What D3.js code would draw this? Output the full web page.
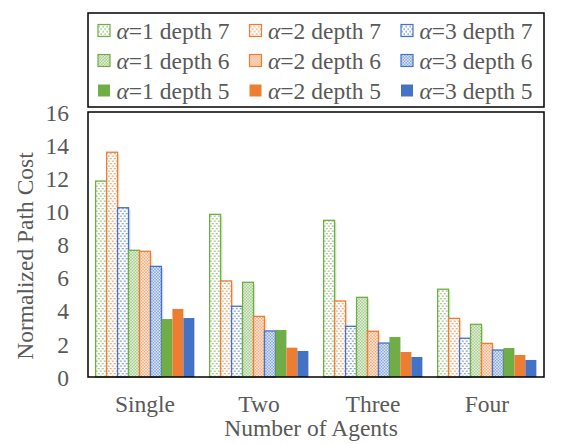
<!DOCTYPE html>
<html>
<head>
<meta charset="utf-8">
<script src="https://cdn.jsdelivr.net/npm/d3@7"></script>
<style>
	body { margin: 0; background: #fff; }
	text { font-family: "Liberation Serif", "Times New Roman", serif; fill: #595959; }
</style>
</head>
<body>
<svg id="chart" width="578" height="444"></svg>
<script>
// chart data
var categories = ["Single", "Two", "Three", "Four"];
var seriesAlpha = [1, 2, 3, 1, 2, 3, 1, 2, 3];
var seriesDepth = [7, 7, 7, 6, 6, 6, 5, 5, 5];
var a1d7 = [11.83, 9.82, 9.46, 5.30];
var a2d7 = [13.57, 5.80, 4.59, 3.54];
var a3d7 = [10.22, 4.27, 3.06, 2.34];
var a1d6 = [7.65, 5.72, 4.81, 3.18];
var a2d6 = [7.59, 3.66, 2.76, 2.03];
var a3d6 = [6.68, 2.78, 2.05, 1.63];
var a1d5 = [3.50, 2.84, 2.42, 1.75];
var a2d5 = [4.11, 1.77, 1.51, 1.33];
var a3d5 = [3.56, 1.57, 1.21, 1.03];
var yTicks = [0, 2, 4, 6, 8, 10, 12, 14, 16];

var seriesValues = [a1d7, a2d7, a3d7, a1d6, a2d6, a3d6, a1d5, a2d5, a3d5];
var alphaColor = {1: "#70ad47", 2: "#ed7d31", 3: "#4472c4"};

var svg = d3.select("#chart");
var plot = {left: 88, right: 544, top: 112, bottom: 377};

//patterns: depth 7 = sparse dots, depth 6 = fine checker
var defs = svg.append("defs");
[1, 2, 3].forEach(function(a){
	var c = alphaColor[a];
	var p7 = defs.append("pattern")
		.attr("id", "dots" + a)
		.attr("patternUnits", "userSpaceOnUse")
		.attr("width", 4).attr("height", 5);
	p7.append("rect").attr("width", 4).attr("height", 5).attr("fill", "#fff");
	p7.append("rect").attr("x", 0.5).attr("y", 0.5).attr("width", 1.3).attr("height", 1.3).attr("fill", c);
	p7.append("rect").attr("x", 2.5).attr("y", 3).attr("width", 1.3).attr("height", 1.3).attr("fill", c);

	var p6 = defs.append("pattern")
		.attr("id", "check" + a)
		.attr("patternUnits", "userSpaceOnUse")
		.attr("width", 3).attr("height", 3);
	p6.append("rect").attr("width", 3).attr("height", 3).attr("fill", "#fff");
	p6.append("rect").attr("width", 1.5).attr("height", 1.5).attr("fill", c).attr("opacity", 0.8);
	p6.append("rect").attr("x", 1.5).attr("y", 1.5).attr("width", 1.5).attr("height", 1.5).attr("fill", c).attr("opacity", 0.8);
});

function seriesFill(i){
	var a = seriesAlpha[i], d = seriesDepth[i];
	if (d === 7) return "url(#dots" + a + ")";
	if (d === 6) return "url(#check" + a + ")";
	return alphaColor[a];
}

var x0 = d3.scaleBand()
	.domain(categories)
	.range([plot.left, plot.right])
	.paddingInner(0.134)
	.paddingOuter(0.067);
var x1 = d3.scaleBand()
	.domain(d3.range(seriesValues.length))
	.range([0, x0.bandwidth()]);
var y = d3.scaleLinear()
	.domain([0, 16])
	.range([plot.bottom, plot.top]);

// bars
var groups = svg.append("g").selectAll("g")
	.data(categories)
	.join("g")
	.attr("transform", function(c){ return "translate(" + x0(c) + ",0)"; });

groups.each(function(c, ci){
	var g = d3.select(this);
	var bars = seriesValues.map(function(v, si){ return {si: si, v: v[ci]}; });
	//faint shadow behind the patterned bars
	g.selectAll("rect.shadow")
		.data(bars.filter(function(b){ return seriesDepth[b.si] !== 5; }))
		.join("rect")
		.attr("class", "shadow")
		.attr("x", function(b){ return x1(b.si) + 2; })
		.attr("y", function(b){ return y(b.v) + 2; })
		.attr("width", x1.bandwidth())
		.attr("height", function(b){ return plot.bottom - y(b.v) - 2; })
		.attr("fill", function(b){ return alphaColor[seriesAlpha[b.si]]; })
		.attr("opacity", 0.18);
	g.selectAll("rect.bar")
		.data(bars)
		.join("rect")
		.attr("class", "bar")
		.attr("x", function(b){ return x1(b.si); })
		.attr("y", function(b){ return y(b.v); })
		.attr("width", x1.bandwidth())
		.attr("height", function(b){ return plot.bottom - y(b.v); })
		.attr("fill", function(b){ return seriesFill(b.si); })
		.attr("stroke", function(b){ return seriesDepth[b.si] === 5 ? "none" : alphaColor[seriesAlpha[b.si]]; })
		.attr("stroke-width", 1.3);
});

// plot frame
svg.append("rect")
	.attr("x", plot.left).attr("y", plot.top)
	.attr("width", plot.right - plot.left).attr("height", plot.bottom - plot.top)
	.attr("fill", "none").attr("stroke", "#000").attr("stroke-width", 1.5);

// y axis labels
var yAxis = svg.append("g")
	.attr("transform", "translate(" + (plot.left - 19) + ",0)")
	.call(d3.axisLeft(y).tickValues(yTicks).tickSize(0).tickPadding(0));
yAxis.select(".domain").remove();
yAxis.selectAll("text")
	.attr("dy", "0.35em")
	.style("font-size", "23.5px")
	.style("font-family", "Liberation Serif");

// x axis labels
var xAxis = svg.append("g")
	.attr("transform", "translate(0," + plot.bottom + ")")
	.call(d3.axisBottom(x0).tickSize(0).tickPadding(0));
xAxis.select(".domain").remove();
xAxis.selectAll("text")
	.attr("y", 27)
	.attr("dy", "0.33em")
	.style("font-size", "23.5px")
	.style("font-family", "Liberation Serif");

svg.append("text")
	.attr("x", (plot.left + plot.right) / 2 - 5)
	.attr("y", 436)
	.attr("text-anchor", "middle")
	.style("font-size", "23.5px")
	.text("Number of Agents");

svg.append("text")
	.attr("transform", "translate(33,256) rotate(-90)")
	.attr("text-anchor", "middle")
	.style("font-size", "23.5px")
	.text("Normalized Path Cost");

// legend
var legend = svg.append("g");
legend.append("rect")
	.attr("x", 88).attr("y", 13)
	.attr("width", 456).attr("height", 94)
	.attr("fill", "#fff").attr("stroke", "#000").attr("stroke-width", 1.5);

var items = legend.selectAll("g.item")
	.data(d3.range(seriesValues.length))
	.join("g")
	.attr("class", "item")
	.attr("transform", function(i){
		return "translate(" + (98 + (i % 3) * 151.5) + "," + (30.5 + Math.floor(i / 3) * 30) + ")";
	});
items.append("rect")
	.attr("x", 0).attr("y", -6)
	.attr("width", 12).attr("height", 12)
	.attr("fill", function(i){ return seriesFill(i); })
	.attr("stroke", function(i){ return seriesDepth[i] === 5 ? "none" : alphaColor[seriesAlpha[i]]; })
	.attr("stroke-width", 1.2);
var lt = items.append("text")
	.attr("x", 18.5)
	.attr("dy", "0.35em")
	.style("font-size", "23.5px");
lt.append("tspan").style("font-style", "italic").text("α");
lt.append("tspan").text(function(i){ return "=" + seriesAlpha[i] + " depth " + seriesDepth[i]; });
</script>
</body>
</html>
